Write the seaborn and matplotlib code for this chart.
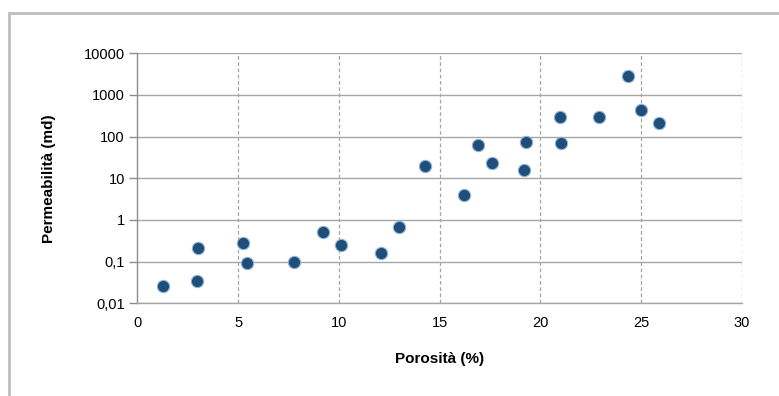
import matplotlib
matplotlib.use("Agg")
import matplotlib.pyplot as plt
import seaborn as sns
import pandas as pd
from matplotlib.patches import Rectangle
from matplotlib.ticker import FixedLocator, FixedFormatter

porosity = [1.26, 3.01, 2.96, 5.23, 5.46, 7.79, 9.2, 10.12, 12.11, 12.99, 14.29,
            16.2, 16.91, 17.62, 19.16, 19.26, 20.99, 21.04, 22.93, 24.34, 24.98, 25.86]
permeability = [0.026, 0.216, 0.035, 0.28, 0.094, 0.10, 0.52, 0.255, 0.164, 0.68, 19.4,
                4.0, 62, 22.9, 15.8, 74, 291, 69, 291, 2900, 443, 216]
y_ticks = [0.01, 0.1, 1, 10, 100, 1000, 10000]
y_tick_labels = ["0,01", "0,1", "1", "10", "100", "1000", "10000"]
x_ticks = [0, 5, 10, 15, 20, 25, 30]
x_label = "Porosità (%)"
y_label = "Permeabilità (md)"

sns.set_theme(style="white")
plt.rcParams['font.family'] = ['Liberation Sans', 'DejaVu Sans']
plt.rcParams['text.color'] = 'black'
plt.rcParams['axes.labelcolor'] = 'black'
plt.rcParams['xtick.color'] = 'black'
plt.rcParams['ytick.color'] = 'black'

df = pd.DataFrame({"x": porosity, "y": permeability})

fig = plt.figure(figsize=(7.79, 3.96), dpi=100)
ax = fig.add_axes([137.3 / 779, 1 - 303.3 / 396, (742 - 137.3) / 779, (303.3 - 53.3) / 396])

# outer frame
fig.patches.append(Rectangle((8.5 / 779, -0.1), 1.2, (396 - 13) / 396 + 0.1,
                             transform=fig.transFigure, fill=False,
                             edgecolor="#bdbdbd", linewidth=2.0, zorder=0))

ax.set_yscale("log")
ax.set_xlim(0, 30)
ax.set_ylim(0.01, 10000)

sns.scatterplot(data=df, x="x", y="y", ax=ax, s=78, color="#1f4e79",
                edgecolor="#8fb4dc", linewidth=0.8, zorder=5, legend=False)

ax.yaxis.set_major_locator(FixedLocator(y_ticks))
ax.yaxis.set_major_formatter(FixedFormatter(y_tick_labels))
ax.yaxis.set_minor_locator(FixedLocator([]))
ax.set_xticks(x_ticks)
ax.set_xticklabels([str(t) for t in x_ticks])

ax.grid(False)
for yv in y_ticks:
    ax.axhline(yv, color="#a6a6a6", linewidth=1.0, zorder=1)
for xv in x_ticks[1:]:
    ax.axvline(xv, color="#a6a6a6", linewidth=0.9, linestyle=(0, (3, 2)), zorder=1)

for side in ["top", "right"]:
    ax.spines[side].set_visible(False)
ax.spines["left"].set_color("#8c8c8c")
ax.spines["bottom"].set_color("#a6a6a6")
ax.spines["left"].set_linewidth(1.0)
ax.spines["bottom"].set_linewidth(1.0)

ax.tick_params(axis="y", which="major", direction="out", length=6, width=1.0,
               color="#8c8c8c", labelcolor="black", labelsize=10.5, pad=3, left=True)
ax.tick_params(axis="x", which="major", length=0, labelcolor="black", labelsize=10.5, pad=9)

ax.set_xlabel(x_label, fontsize=11, fontweight="bold", labelpad=16, color="black")
ax.set_ylabel(y_label, fontsize=11, fontweight="bold", labelpad=20, color="black")

fig.savefig("out.png", dpi=100)
